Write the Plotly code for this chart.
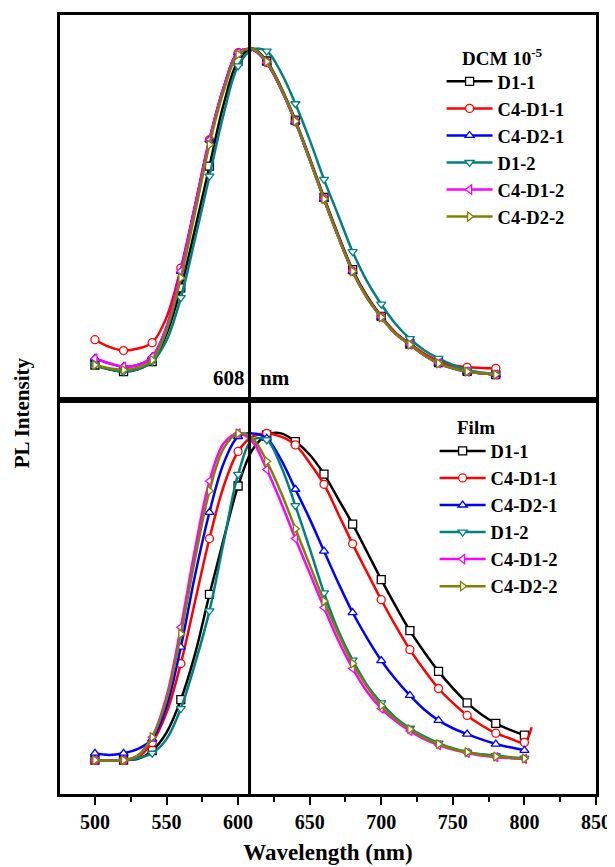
import plotly.graph_objects as go
from plotly.subplots import make_subplots

"""
PL spectra, DCM solution (top) and film (bottom), normalised.
"""

# wavelengths (nm), read every 10 nm
wl_dcm = [500, 510, 520, 530, 540, 550, 560, 570, 580, 590, 600, 610, 620, 630, 640,
          650, 660, 670, 680, 690, 700, 710, 720, 730, 740, 750, 760, 770, 780]
wl_film = [500, 510, 520, 530, 540, 550, 560, 570, 580, 590, 600, 610, 620, 630, 640,
           650, 660, 670, 680, 690, 700, 710, 720, 730, 740, 750, 760, 770, 780, 790, 800]
wl_film_red = wl_film + [805]

series_names = ["D1-1", "C4-D1-1", "C4-D2-1", "D1-2", "C4-D1-2", "C4-D2-2"]
series_colors = ["#000000", "#ff0000", "#0000ff", "#008080", "#ff00ff", "#808000"]
series_symbols = ["square", "circle", "triangle-up", "triangle-down", "triangle-left", "triangle-right"]

# DCM 10^-5 solution
dcm_d11 = [0.035, 0.022, 0.015, 0.022, 0.045, 0.13, 0.27, 0.45, 0.64, 0.83, 0.96, 0.998, 0.96, 0.88, 0.78,
           0.665, 0.545, 0.43, 0.325, 0.245, 0.183, 0.133, 0.099, 0.067, 0.042, 0.026, 0.016, 0.01, 0.006]
dcm_c4d11 = [0.112, 0.09, 0.079, 0.085, 0.103, 0.18, 0.33, 0.52, 0.72, 0.88, 0.985, 0.995, 0.955, 0.875, 0.775,
             0.66, 0.54, 0.425, 0.32, 0.242, 0.182, 0.133, 0.1, 0.07, 0.047, 0.034, 0.028, 0.026, 0.025]
dcm_c4d21 = [0.055, 0.04, 0.03, 0.035, 0.06, 0.15, 0.32, 0.52, 0.72, 0.88, 0.985, 0.995, 0.955, 0.875, 0.775,
             0.66, 0.54, 0.425, 0.32, 0.24, 0.18, 0.13, 0.097, 0.065, 0.04, 0.025, 0.015, 0.01, 0.006]
dcm_d12 = [0.035, 0.022, 0.015, 0.022, 0.045, 0.11, 0.24, 0.42, 0.61, 0.8, 0.945, 0.995, 0.99, 0.925, 0.83,
           0.72, 0.6, 0.49, 0.38, 0.29, 0.22, 0.16, 0.115, 0.08, 0.055, 0.035, 0.02, 0.012, 0.007]
dcm_c4d12 = [0.055, 0.04, 0.03, 0.035, 0.06, 0.15, 0.32, 0.52, 0.72, 0.88, 0.985, 0.995, 0.955, 0.875, 0.775,
             0.66, 0.54, 0.425, 0.32, 0.24, 0.18, 0.13, 0.097, 0.065, 0.04, 0.025, 0.015, 0.01, 0.006]
dcm_c4d22 = [0.035, 0.025, 0.02, 0.027, 0.05, 0.14, 0.30, 0.50, 0.705, 0.87, 0.98, 0.997, 0.958, 0.877, 0.777,
             0.66, 0.54, 0.425, 0.32, 0.24, 0.18, 0.13, 0.097, 0.065, 0.04, 0.025, 0.015, 0.01, 0.006]

# film
film_d11 = [0.006, 0.005, 0.006, 0.01, 0.035, 0.09, 0.19, 0.33, 0.51, 0.68, 0.84, 0.95, 0.995, 1.0, 0.975,
            0.935, 0.876, 0.8, 0.724, 0.64, 0.555, 0.475, 0.4, 0.335, 0.276, 0.225, 0.18, 0.145, 0.118, 0.098, 0.082]
film_c4d11 = [0.006, 0.005, 0.006, 0.015, 0.06, 0.15, 0.30, 0.49, 0.68, 0.84, 0.945, 0.99, 1.0, 0.99, 0.965,
              0.91, 0.845, 0.755, 0.664, 0.578, 0.494, 0.415, 0.342, 0.28, 0.224, 0.18, 0.142, 0.112, 0.088, 0.072, 0.06,
              0.106]
film_c4d21 = [0.027, 0.022, 0.027, 0.04, 0.07, 0.17, 0.35, 0.57, 0.76, 0.91, 0.99, 1.0, 0.985, 0.92, 0.83,
              0.74, 0.642, 0.545, 0.455, 0.378, 0.309, 0.252, 0.203, 0.16, 0.127, 0.103, 0.085, 0.069, 0.055, 0.045, 0.036]
film_d12 = [0.006, 0.004, 0.006, 0.012, 0.027, 0.07, 0.163, 0.30, 0.46, 0.67, 0.875, 0.98, 0.98, 0.9, 0.78,
            0.65, 0.515, 0.4, 0.31, 0.235, 0.18, 0.135, 0.103, 0.078, 0.058, 0.042, 0.03, 0.024, 0.02, 0.015, 0.012]
film_c4d12 = [0.006, 0.005, 0.006, 0.02, 0.076, 0.2, 0.41, 0.65, 0.855, 0.97, 1.0, 0.975, 0.89, 0.79, 0.68,
              0.575, 0.47, 0.37, 0.285, 0.215, 0.163, 0.125, 0.095, 0.07, 0.052, 0.038, 0.028, 0.02, 0.015, 0.012, 0.01]
film_c4d22 = [0.006, 0.005, 0.006, 0.02, 0.076, 0.19, 0.39, 0.62, 0.825, 0.955, 1.0, 0.985, 0.915, 0.82, 0.71,
              0.60, 0.49, 0.39, 0.30, 0.23, 0.172, 0.13, 0.1, 0.074, 0.055, 0.04, 0.03, 0.022, 0.017, 0.013, 0.011]

peak_nm = 608
x_ticks = [500, 550, 600, 650, 700, 750, 800, 850]

FONT = "Liberation Serif"

# plot area in window pixels (page body adds 8 px)
PX_L, PX_R, PX_T, PX_B = 60, 598, 12, 794


def px_to_paper(sx, sy):
    return (sx - PX_L) / (PX_R - PX_L), 1 - (sy - PX_T) / (PX_B - PX_T)


def add_series(fig, x, y, row, idx, legend_name):
    color = series_colors[idx]
    # smooth line
    fig.add_trace(go.Scatter(x=x, y=y, mode="lines", line=dict(color=color, width=2.5, shape="spline"),
                             showlegend=False, hoverinfo="skip"), row=row, col=1)
    # open markers every 20 nm
    fig.add_trace(go.Scatter(x=x[:31:2], y=y[:31:2], mode="markers",
                             marker=dict(symbol=series_symbols[idx], size=8, color="white",
                                         line=dict(color=color, width=1.3)),
                             showlegend=False), row=row, col=1)
    # legend entry
    fig.add_trace(go.Scatter(x=[None], y=[None], mode="lines+markers", name=series_names[idx],
                             line=dict(color=color, width=2.5),
                             marker=dict(symbol=series_symbols[idx], size=8, color="white",
                                         line=dict(color=color, width=1.3)),
                             legend=legend_name), row=row, col=1)


def main():

    fig = make_subplots(rows=2, cols=1, shared_xaxes=True, vertical_spacing=0, row_heights=[386, 396])

    dcm = [dcm_d11, dcm_c4d11, dcm_c4d21, dcm_d12, dcm_c4d12, dcm_c4d22]
    film = [film_d11, film_c4d11, film_c4d21, film_d12, film_c4d12, film_c4d22]

    for i, y in enumerate(dcm):
        add_series(fig, wl_dcm, y, 1, i, "legend")
    for i, y in enumerate(film):
        x = wl_film_red if i == 1 else wl_film
        add_series(fig, x, y, 2, i, "legend2")

    axis_common = dict(showline=True, linewidth=3, linecolor="black", mirror=True,
                       showgrid=False, zeroline=False)
    fig.update_xaxes(range=[475.6, 850], **axis_common)
    fig.update_xaxes(ticks="", showticklabels=False, row=1, col=1)
    fig.update_xaxes(ticks="outside", ticklen=8, tickwidth=2, tickcolor="black",
                     tickvals=x_ticks, ticktext=["<b>%d</b>" % t for t in x_ticks], showticklabels=True,
                     minor=dict(ticks="outside", ticklen=5, tickwidth=2, tickcolor="black", dtick=25, tick0=500),
                     tickfont=dict(family=FONT, size=20, color="black"),
                     title=dict(text="<b>Wavelength (nm)</b>", standoff=12,
                                font=dict(family=FONT, size=23, color="black")),
                     row=2, col=1)
    fig.update_yaxes(showticklabels=False, ticks="", **axis_common)
    fig.update_yaxes(range=[-0.07, 1.1], row=1, col=1)
    fig.update_yaxes(range=[-0.097, 1.103], row=2, col=1)

    # 608 nm marker line
    fig.add_shape(type="line", xref="x", yref="paper", x0=peak_nm, x1=peak_nm, y0=0, y1=1,
                  line=dict(color="black", width=3))

    text_font = dict(family=FONT, size=21, color="black")
    fig.add_annotation(x=peak_nm, y=-0.005, xref="x", yref="y", text="<b>%d</b>" % peak_nm, showarrow=False,
                       xanchor="right", yanchor="middle", xshift=-3, font=text_font)
    fig.add_annotation(x=peak_nm, y=-0.005, xref="x", yref="y", text="<b>nm</b>", showarrow=False,
                       xanchor="left", yanchor="middle", xshift=8, font=text_font)

    title_font = dict(family=FONT, size=19, color="black")
    tx, ty = px_to_paper(504, 54)
    fig.add_annotation(x=tx, y=ty, xref="paper", yref="paper", text="<b>DCM 10<sup>-5</sup></b>",
                       showarrow=False, xanchor="center", yanchor="middle", font=title_font)
    tx, ty = px_to_paper(478, 426)
    fig.add_annotation(x=tx, y=ty, xref="paper", yref="paper", text="<b>Film</b>",
                       showarrow=False, xanchor="center", yanchor="middle", font=title_font)

    fig.add_annotation(x=-0.071, y=0.49, xref="paper", yref="paper", text="<b>PL Intensity</b>", textangle=-90,
                       showarrow=False, xanchor="center", yanchor="middle",
                       font=dict(family=FONT, size=21, color="black"))

    legend_font = dict(family=FONT, size=18.5, color="black", weight="bold")
    legend_common = dict(font=legend_font, bgcolor="rgba(0,0,0,0)", borderwidth=0,
                         xanchor="left", yanchor="top", itemwidth=46, tracegroupgap=0)
    lx1, ly1 = px_to_paper(443, 60)
    lx2, ly2 = px_to_paper(436, 431)
    fig.update_layout(
        width=607, height=859,
        margin=dict(l=52, r=17, t=4, b=73),
        plot_bgcolor="white", paper_bgcolor="white",
        legend=dict(x=lx1, y=ly1, **legend_common),
        legend2=dict(x=lx2, y=ly2, **legend_common),
    )

    fig.write_html("out.html")


if __name__ == "__main__":

    main()
